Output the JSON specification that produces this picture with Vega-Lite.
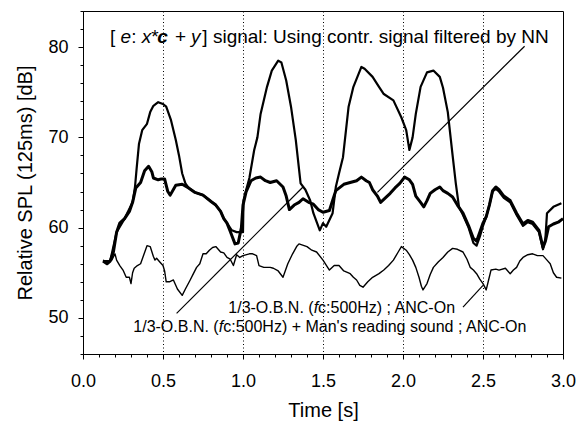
{
  "$schema": "https://vega.github.io/schema/vega-lite/v6.json",
  "width": 480,
  "height": 343,
  "autosize": "none",
  "padding": {"left": 83, "top": 11, "right": 24, "bottom": 71},
  "background": "white",
  "config": {
    "view": {"stroke": "black", "strokeWidth": 1},
    "axis": {"domainColor": "black", "tickColor": "black", "labelColor": "black", "titleColor": "black", "labelFont": "Liberation Sans", "titleFont": "Liberation Sans", "labelFontSize": 18, "titleFontSize": 20, "titleFontWeight": "normal"}
  },
  "datasets": {
    "curves": [
      {"s":"A","t":0.125,"v":56.3},{"s":"A","t":0.15,"v":56.0},{"s":"A","t":0.17,"v":56.3},{"s":"A","t":0.19,"v":57.3},{"s":"A","t":0.21,"v":59.5},{"s":"A","t":0.23,"v":60.5},{"s":"A","t":0.26,"v":61.0},{"s":"A","t":0.29,"v":61.8},{"s":"A","t":0.31,"v":62.8},{"s":"A","t":0.33,"v":64.4},{"s":"A","t":0.36,"v":65.0},{"s":"A","t":0.385,"v":66.3},{"s":"A","t":0.41,"v":66.8},{"s":"A","t":0.43,"v":66.2},{"s":"A","t":0.44,"v":65.5},{"s":"A","t":0.47,"v":65.3},{"s":"A","t":0.49,"v":65.4},{"s":"A","t":0.51,"v":65.4},{"s":"A","t":0.53,"v":64.0},{"s":"A","t":0.545,"v":63.6},{"s":"A","t":0.58,"v":64.7},{"s":"A","t":0.62,"v":64.8},{"s":"A","t":0.66,"v":64.4},{"s":"A","t":0.70,"v":63.9},{"s":"A","t":0.75,"v":63.6},{"s":"A","t":0.80,"v":62.9},{"s":"A","t":0.83,"v":62.5},{"s":"A","t":0.86,"v":61.8},{"s":"A","t":0.88,"v":61.0},{"s":"A","t":0.90,"v":60.5},{"s":"A","t":0.92,"v":59.6},{"s":"A","t":0.95,"v":58.2},{"s":"A","t":0.97,"v":58.3},{"s":"A","t":0.99,"v":60.0},{"s":"A","t":1.00,"v":62.5},{"s":"A","t":1.02,"v":64.0},{"s":"A","t":1.05,"v":65.2},{"s":"A","t":1.08,"v":65.5},{"s":"A","t":1.11,"v":65.6},{"s":"A","t":1.14,"v":65.2},{"s":"A","t":1.17,"v":65.0},{"s":"A","t":1.21,"v":65.2},{"s":"A","t":1.25,"v":64.5},{"s":"A","t":1.27,"v":63.5},{"s":"A","t":1.29,"v":62.0},{"s":"A","t":1.32,"v":62.5},{"s":"A","t":1.35,"v":62.8},{"s":"A","t":1.375,"v":63.2},{"s":"A","t":1.41,"v":62.8},{"s":"A","t":1.44,"v":62.6},{"s":"A","t":1.47,"v":62.0},{"s":"A","t":1.50,"v":61.7},{"s":"A","t":1.54,"v":61.9},{"s":"A","t":1.56,"v":63.0},{"s":"A","t":1.58,"v":64.1},{"s":"A","t":1.63,"v":64.8},{"s":"A","t":1.67,"v":65.0},{"s":"A","t":1.71,"v":65.2},{"s":"A","t":1.74,"v":65.6},{"s":"A","t":1.77,"v":65.2},{"s":"A","t":1.79,"v":65.0},{"s":"A","t":1.81,"v":64.2},{"s":"A","t":1.84,"v":63.5},{"s":"A","t":1.86,"v":62.8},{"s":"A","t":1.89,"v":63.3},{"s":"A","t":1.92,"v":63.8},{"s":"A","t":1.95,"v":64.4},{"s":"A","t":1.98,"v":64.9},{"s":"A","t":2.01,"v":65.6},{"s":"A","t":2.04,"v":65.3},{"s":"A","t":2.06,"v":64.8},{"s":"A","t":2.08,"v":63.5},{"s":"A","t":2.11,"v":62.8},{"s":"A","t":2.13,"v":62.3},{"s":"A","t":2.15,"v":63.0},{"s":"A","t":2.17,"v":63.8},{"s":"A","t":2.20,"v":64.2},{"s":"A","t":2.23,"v":64.5},{"s":"A","t":2.25,"v":64.1},{"s":"A","t":2.28,"v":63.8},{"s":"A","t":2.31,"v":63.4},{"s":"A","t":2.34,"v":62.5},{"s":"A","t":2.375,"v":61.6},{"s":"A","t":2.41,"v":60.2},{"s":"A","t":2.44,"v":58.8},{"s":"A","t":2.46,"v":58.5},{"s":"A","t":2.48,"v":59.5},{"s":"A","t":2.50,"v":60.5},{"s":"A","t":2.52,"v":61.2},{"s":"A","t":2.54,"v":62.5},{"s":"A","t":2.56,"v":64.1},{"s":"A","t":2.58,"v":64.5},{"s":"A","t":2.60,"v":64.2},{"s":"A","t":2.63,"v":63.5},{"s":"A","t":2.67,"v":63.0},{"s":"A","t":2.71,"v":61.6},{"s":"A","t":2.75,"v":60.4},{"s":"A","t":2.78,"v":60.8},{"s":"A","t":2.81,"v":60.6},{"s":"A","t":2.85,"v":59.7},{"s":"A","t":2.875,"v":57.8},{"s":"A","t":2.89,"v":58.5},{"s":"A","t":2.91,"v":60.1},{"s":"A","t":2.94,"v":60.4},{"s":"A","t":2.97,"v":60.6},{"s":"A","t":3.00,"v":61.0},
      {"s":"B","t":0.125,"v":56.3},{"s":"B","t":0.17,"v":56.3},{"s":"B","t":0.21,"v":59.5},{"s":"B","t":0.26,"v":61.0},{"s":"B","t":0.31,"v":62.8},{"s":"B","t":0.325,"v":64.5},{"s":"B","t":0.335,"v":66.5},{"s":"B","t":0.35,"v":69.3},{"s":"B","t":0.37,"v":70.8},{"s":"B","t":0.40,"v":71.5},{"s":"B","t":0.42,"v":72.8},{"s":"B","t":0.44,"v":73.5},{"s":"B","t":0.47,"v":73.9},{"s":"B","t":0.50,"v":73.7},{"s":"B","t":0.52,"v":73.4},{"s":"B","t":0.55,"v":71.9},{"s":"B","t":0.58,"v":69.7},{"s":"B","t":0.60,"v":68.0},{"s":"B","t":0.62,"v":66.0},{"s":"B","t":0.64,"v":64.9},{"s":"B","t":0.66,"v":64.4},{"s":"B","t":0.70,"v":63.9},{"s":"B","t":0.75,"v":63.6},{"s":"B","t":0.80,"v":62.9},{"s":"B","t":0.83,"v":62.5},{"s":"B","t":0.86,"v":61.8},{"s":"B","t":0.88,"v":61.0},{"s":"B","t":0.90,"v":60.5},{"s":"B","t":0.93,"v":59.7},{"s":"B","t":0.96,"v":59.5},{"s":"B","t":1.00,"v":59.5},{"s":"B","t":1.003,"v":63.0},{"s":"B","t":1.02,"v":64.2},{"s":"B","t":1.04,"v":65.5},{"s":"B","t":1.07,"v":68.6},{"s":"B","t":1.09,"v":70.0},{"s":"B","t":1.11,"v":72.6},{"s":"B","t":1.15,"v":75.6},{"s":"B","t":1.18,"v":77.4},{"s":"B","t":1.22,"v":78.5},{"s":"B","t":1.24,"v":78.3},{"s":"B","t":1.27,"v":76.3},{"s":"B","t":1.30,"v":73.4},{"s":"B","t":1.33,"v":69.7},{"s":"B","t":1.36,"v":64.9},{"s":"B","t":1.39,"v":64.2},{"s":"B","t":1.42,"v":63.0},{"s":"B","t":1.44,"v":61.6},{"s":"B","t":1.48,"v":59.7},{"s":"B","t":1.50,"v":60.5},{"s":"B","t":1.52,"v":60.1},{"s":"B","t":1.56,"v":61.6},{"s":"B","t":1.58,"v":64.5},{"s":"B","t":1.60,"v":66.0},{"s":"B","t":1.625,"v":67.8},{"s":"B","t":1.66,"v":73.4},{"s":"B","t":1.69,"v":75.6},{"s":"B","t":1.74,"v":77.8},{"s":"B","t":1.76,"v":77.6},{"s":"B","t":1.81,"v":76.7},{"s":"B","t":1.85,"v":75.6},{"s":"B","t":1.88,"v":74.8},{"s":"B","t":1.94,"v":74.1},{"s":"B","t":1.99,"v":72.2},{"s":"B","t":2.02,"v":70.8},{"s":"B","t":2.04,"v":68.6},{"s":"B","t":2.06,"v":70.0},{"s":"B","t":2.08,"v":72.6},{"s":"B","t":2.11,"v":75.6},{"s":"B","t":2.15,"v":77.2},{"s":"B","t":2.19,"v":77.4},{"s":"B","t":2.23,"v":76.7},{"s":"B","t":2.25,"v":75.5},{"s":"B","t":2.28,"v":72.8},{"s":"B","t":2.31,"v":68.0},{"s":"B","t":2.33,"v":64.9},{"s":"B","t":2.35,"v":62.3},{"s":"B","t":2.375,"v":61.4},{"s":"B","t":2.41,"v":60.0},{"s":"B","t":2.44,"v":58.3},{"s":"B","t":2.46,"v":58.0},{"s":"B","t":2.48,"v":59.0},{"s":"B","t":2.50,"v":60.2},{"s":"B","t":2.52,"v":61.2},{"s":"B","t":2.54,"v":62.5},{"s":"B","t":2.56,"v":64.0},{"s":"B","t":2.58,"v":64.3},{"s":"B","t":2.60,"v":64.0},{"s":"B","t":2.63,"v":63.3},{"s":"B","t":2.67,"v":62.8},{"s":"B","t":2.71,"v":61.4},{"s":"B","t":2.75,"v":60.2},{"s":"B","t":2.78,"v":60.6},{"s":"B","t":2.81,"v":60.4},{"s":"B","t":2.85,"v":59.5},{"s":"B","t":2.875,"v":57.6},{"s":"B","t":2.89,"v":58.8},{"s":"B","t":2.90,"v":61.6},{"s":"B","t":2.94,"v":62.3},{"s":"B","t":2.99,"v":62.7},
      {"s":"C","t":0.125,"v":56.4},{"s":"C","t":0.15,"v":56.2},{"s":"C","t":0.18,"v":56.4},{"s":"C","t":0.20,"v":57.1},{"s":"C","t":0.21,"v":56.4},{"s":"C","t":0.23,"v":55.8},{"s":"C","t":0.25,"v":55.3},{"s":"C","t":0.27,"v":54.5},{"s":"C","t":0.29,"v":54.5},{"s":"C","t":0.30,"v":53.8},{"s":"C","t":0.31,"v":55.0},{"s":"C","t":0.32,"v":55.5},{"s":"C","t":0.34,"v":55.8},{"s":"C","t":0.36,"v":56.0},{"s":"C","t":0.38,"v":57.0},{"s":"C","t":0.40,"v":58.0},{"s":"C","t":0.42,"v":57.9},{"s":"C","t":0.44,"v":56.8},{"s":"C","t":0.45,"v":56.4},{"s":"C","t":0.46,"v":56.6},{"s":"C","t":0.48,"v":56.2},{"s":"C","t":0.50,"v":55.8},{"s":"C","t":0.51,"v":55.2},{"s":"C","t":0.52,"v":54.0},{"s":"C","t":0.54,"v":54.0},{"s":"C","t":0.565,"v":54.2},{"s":"C","t":0.59,"v":53.2},{"s":"C","t":0.62,"v":52.5},{"s":"C","t":0.64,"v":53.2},{"s":"C","t":0.67,"v":54.2},{"s":"C","t":0.69,"v":54.9},{"s":"C","t":0.71,"v":55.6},{"s":"C","t":0.73,"v":56.0},{"s":"C","t":0.75,"v":57.1},{"s":"C","t":0.77,"v":57.1},{"s":"C","t":0.79,"v":57.5},{"s":"C","t":0.81,"v":57.8},{"s":"C","t":0.83,"v":57.9},{"s":"C","t":0.86,"v":57.3},{"s":"C","t":0.88,"v":57.2},{"s":"C","t":0.90,"v":56.7},{"s":"C","t":0.92,"v":56.5},{"s":"C","t":0.94,"v":55.8},{"s":"C","t":0.96,"v":57.0},{"s":"C","t":0.98,"v":56.7},{"s":"C","t":1.00,"v":56.9},{"s":"C","t":1.04,"v":57.1},{"s":"C","t":1.06,"v":57.1},{"s":"C","t":1.085,"v":56.9},{"s":"C","t":1.10,"v":55.8},{"s":"C","t":1.13,"v":55.6},{"s":"C","t":1.17,"v":55.6},{"s":"C","t":1.19,"v":55.5},{"s":"C","t":1.22,"v":55.2},{"s":"C","t":1.25,"v":54.5},{"s":"C","t":1.28,"v":56.0},{"s":"C","t":1.31,"v":57.1},{"s":"C","t":1.335,"v":57.9},{"s":"C","t":1.35,"v":58.2},{"s":"C","t":1.40,"v":57.9},{"s":"C","t":1.43,"v":57.5},{"s":"C","t":1.46,"v":57.3},{"s":"C","t":1.50,"v":56.4},{"s":"C","t":1.54,"v":55.3},{"s":"C","t":1.57,"v":55.8},{"s":"C","t":1.60,"v":55.8},{"s":"C","t":1.63,"v":55.2},{"s":"C","t":1.67,"v":54.9},{"s":"C","t":1.69,"v":54.5},{"s":"C","t":1.71,"v":54.2},{"s":"C","t":1.73,"v":53.6},{"s":"C","t":1.75,"v":53.4},{"s":"C","t":1.78,"v":54.0},{"s":"C","t":1.81,"v":54.5},{"s":"C","t":1.85,"v":54.9},{"s":"C","t":1.88,"v":55.3},{"s":"C","t":1.91,"v":55.8},{"s":"C","t":1.94,"v":56.4},{"s":"C","t":1.97,"v":57.3},{"s":"C","t":1.99,"v":57.9},{"s":"C","t":2.02,"v":57.5},{"s":"C","t":2.04,"v":57.0},{"s":"C","t":2.06,"v":56.4},{"s":"C","t":2.08,"v":55.6},{"s":"C","t":2.10,"v":54.5},{"s":"C","t":2.115,"v":53.5},{"s":"C","t":2.125,"v":53.1},{"s":"C","t":2.15,"v":53.8},{"s":"C","t":2.17,"v":54.8},{"s":"C","t":2.19,"v":55.6},{"s":"C","t":2.22,"v":56.2},{"s":"C","t":2.25,"v":56.7},{"s":"C","t":2.28,"v":57.3},{"s":"C","t":2.31,"v":57.7},{"s":"C","t":2.34,"v":57.6},{"s":"C","t":2.375,"v":57.3},{"s":"C","t":2.40,"v":56.5},{"s":"C","t":2.42,"v":55.6},{"s":"C","t":2.44,"v":55.3},{"s":"C","t":2.46,"v":54.9},{"s":"C","t":2.48,"v":54.3},{"s":"C","t":2.50,"v":53.8},{"s":"C","t":2.52,"v":53.1},{"s":"C","t":2.535,"v":54.2},{"s":"C","t":2.55,"v":55.3},{"s":"C","t":2.58,"v":55.4},{"s":"C","t":2.60,"v":55.3},{"s":"C","t":2.64,"v":55.5},{"s":"C","t":2.67,"v":54.9},{"s":"C","t":2.69,"v":55.3},{"s":"C","t":2.71,"v":55.6},{"s":"C","t":2.73,"v":56.3},{"s":"C","t":2.75,"v":56.7},{"s":"C","t":2.78,"v":57.0},{"s":"C","t":2.81,"v":57.1},{"s":"C","t":2.84,"v":56.9},{"s":"C","t":2.875,"v":56.9},{"s":"C","t":2.90,"v":56.4},{"s":"C","t":2.92,"v":56.0},{"s":"C","t":2.94,"v":55.0},{"s":"C","t":2.96,"v":54.5},{"s":"C","t":2.99,"v":54.4}
    ],
    "pointers": [
      {"t": 1.84, "v": 63.9, "t2": 2.76, "v2": 80.1},
      {"t": 0.585, "v": 50.5, "t2": 1.375, "v2": 64.5},
      {"t": 2.375, "v": 51.2, "t2": 2.5, "v2": 53.6}
    ],
    "titlePlain": [
      {"t": 0.16875, "v": 80.4, "txt": "["},
      {"t": 0.30125, "v": 80.4, "txt": ":"},
      {"t": 0.4269, "v": 80.4, "txt": "*"},
      {"t": 0.575, "v": 80.4, "txt": "+"},
      {"t": 0.746, "v": 80.4, "txt": " ] signal: Using contr. signal filtered by NN"}
    ],
    "titleItalic": [
      {"t": 0.235, "v": 80.4, "txt": "e"},
      {"t": 0.3675, "v": 80.4, "txt": "x"},
      {"t": 0.6749, "v": 80.4, "txt": "y"}
    ],
    "titleBold": [
      {"t": 0.4635, "v": 80.4, "txt": "c"}
    ],
    "labPlain": [
      {"t": 0.9081, "v": 50.5, "txt": "1/3-O.B.N. ("},
      {"t": 1.4694, "v": 50.5, "txt": "c:500Hz) ; ANC-On"},
      {"t": 0.3144, "v": 48.44, "txt": "1/3-O.B.N. ("},
      {"t": 0.8763, "v": 48.44, "txt": "c:500Hz) + Man's reading sound ; ANC-On"}
    ],
    "labItalic": [
      {"t": 1.4419, "v": 50.5, "txt": "f"},
      {"t": 0.8481, "v": 48.44, "txt": "f"}
    ]
  },
  "encoding": {
    "x": {"field": "t", "type": "quantitative", "scale": {"domain": [0, 3], "nice": false, "zero": false},
      "axis": {"title": "Time [s]", "values": [0,0.1,0.2,0.3,0.4,0.5,0.6,0.7,0.8,0.9,1.0,1.1,1.2,1.3,1.4,1.5,1.6,1.7,1.8,1.9,2.0,2.1,2.2,2.3,2.4,2.5,2.6,2.7,2.8,2.9,3.0],
        "labelExpr": "abs(datum.value*2-round(datum.value*2))<0.001 ? format(datum.value,'.1f') : ''",
        "labelOverlap": false, "labelFlush": false, "labelPadding": 13,
        "tickSize": {"condition": {"test": "abs(datum.value*2-round(datum.value*2))<0.001", "value": 5}, "value": 3},
        "grid": true, "gridColor": "black", "gridDash": [1, 2.5], "gridWidth": 1,
        "gridOpacity": {"condition": {"test": "abs(datum.value*2-round(datum.value*2))<0.001 && datum.value>0.01 && datum.value<2.99", "value": 1}, "value": 0},
        "titlePadding": 10}},
    "y": {"field": "v", "type": "quantitative", "scale": {"domain": [46, 84], "nice": false, "zero": false},
      "axis": {"title": "Relative SPL (125ms) [dB]", "values": [46,48,50,52,54,56,58,60,62,64,66,68,70,72,74,76,78,80,82,84],
        "labelExpr": "datum.value % 10 == 0 ? datum.value : ''",
        "labelOverlap": false, "labelPadding": 10, "grid": false,
        "tickSize": {"condition": {"test": "datum.value % 10 == 0", "value": 5}, "value": 3},
        "titlePadding": 12}}
  },
  "layer": [
    {"data": {"name": "curves"}, "mark": {"type": "line", "color": "black", "strokeJoin": "round"},
      "encoding": {"detail": {"field": "s"}, "strokeWidth": {"field": "s", "type": "nominal", "scale": {"domain": ["A", "B", "C"], "range": [3.0, 1.4, 1.4]}, "legend": null}}},
    {"data": {"name": "pointers"}, "mark": {"type": "rule", "color": "black", "strokeWidth": 1.2},
      "encoding": {"x2": {"field": "t2"}, "y2": {"field": "v2"}}},
    {"data": {"name": "titlePlain"}, "mark": {"type": "text", "align": "left", "baseline": "alphabetic", "font": "Liberation Sans", "fontSize": 19, "color": "black"}, "encoding": {"text": {"field": "txt"}}},
    {"data": {"name": "titleItalic"}, "mark": {"type": "text", "align": "left", "baseline": "alphabetic", "font": "Liberation Sans", "fontSize": 19, "fontStyle": "italic", "color": "black"}, "encoding": {"text": {"field": "txt"}}},
    {"data": {"name": "titleBold"}, "mark": {"type": "text", "align": "left", "baseline": "alphabetic", "font": "Liberation Sans", "fontSize": 19, "fontStyle": "italic", "fontWeight": "bold", "color": "black"}, "encoding": {"text": {"field": "txt"}}},
    {"data": {"name": "labPlain"}, "mark": {"type": "text", "align": "left", "baseline": "alphabetic", "font": "Liberation Sans", "fontSize": 16, "color": "black"}, "encoding": {"text": {"field": "txt"}}},
    {"data": {"name": "labItalic"}, "mark": {"type": "text", "align": "left", "baseline": "alphabetic", "font": "Liberation Sans", "fontSize": 16, "fontStyle": "italic", "color": "black"}, "encoding": {"text": {"field": "txt"}}}
  ]
}
